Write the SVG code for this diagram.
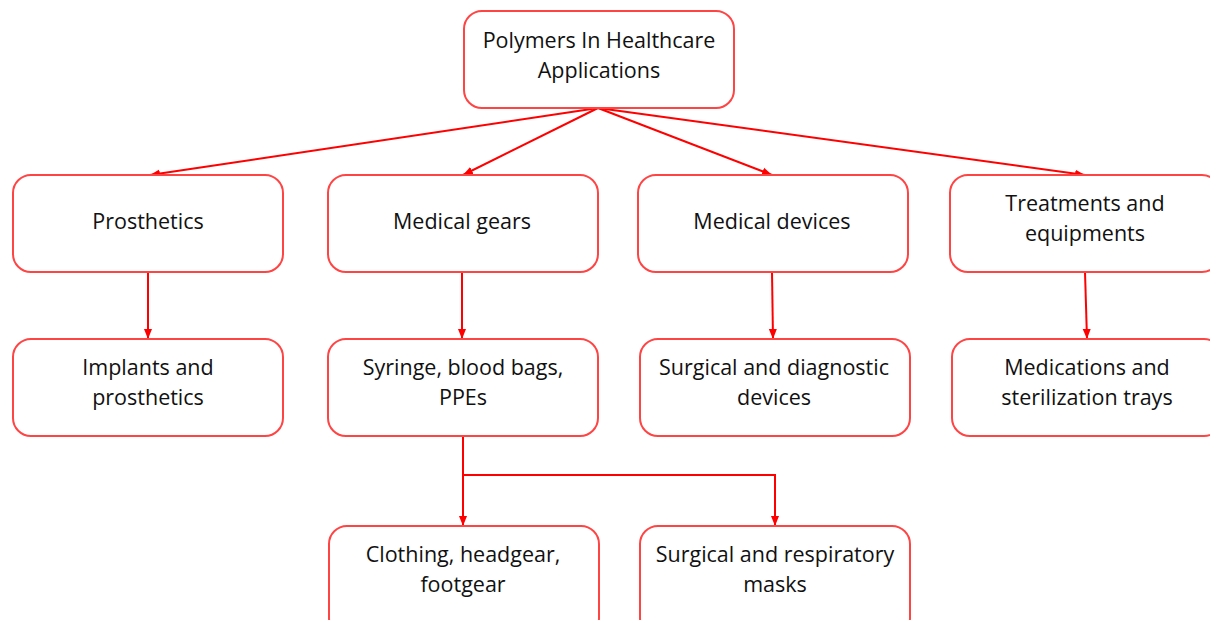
<svg xmlns="http://www.w3.org/2000/svg" width="1210" height="620" viewBox="0 0 1210 620">
<style>
.box{fill:#fff;stroke:#f44;stroke-width:2}
.t{font-family:"Open Sans","Liberation Sans",sans-serif;font-size:21.5px;fill:#111;text-anchor:middle}
.c{fill:none;stroke:#f00;stroke-width:2}
</style>
<defs>
<marker id="a" viewBox="0 0 10 10" refX="10" refY="5" markerWidth="10" markerHeight="10" orient="auto" markerUnits="userSpaceOnUse">
<path d="M0,1 L10,5 L0,9 z" fill="#f00"/>
</marker>
</defs>
<g id="connectors">
<line class="c" x1="598" y1="108" x2="150" y2="175" marker-end="url(#a)"/>
<line class="c" x1="598" y1="108" x2="463" y2="175" marker-end="url(#a)"/>
<line class="c" x1="598" y1="108" x2="772" y2="175" marker-end="url(#a)"/>
<line class="c" x1="598" y1="108" x2="1085" y2="175" marker-end="url(#a)"/>
<line class="c" x1="148" y1="272" x2="148" y2="339" marker-end="url(#a)"/>
<line class="c" x1="462" y1="272" x2="462" y2="339" marker-end="url(#a)"/>
<line class="c" x1="772" y1="272" x2="773" y2="339" marker-end="url(#a)"/>
<line class="c" x1="1085" y1="272" x2="1087" y2="339" marker-end="url(#a)"/>
<polyline class="c" points="463,436 463,475 463,526" marker-end="url(#a)"/>
<polyline class="c" points="463,475 775,475 775,526" marker-end="url(#a)"/>
</g>
<g id="root"><rect class="box" x="464" y="11" width="270" height="97" rx="18"/><text class="t" x="599" y="48">Polymers In Healthcare</text><text class="t" x="599" y="78">Applications</text></g>
<g id="prosthetics"><rect class="box" x="13" y="175" width="270" height="97" rx="18"/><text class="t" x="148" y="229">Prosthetics</text></g>
<g id="medical-gears"><rect class="box" x="328" y="175" width="270" height="97" rx="18"/><text class="t" x="462" y="229">Medical gears</text></g>
<g id="medical-devices"><rect class="box" x="638" y="175" width="270" height="97" rx="18"/><text class="t" x="772" y="229">Medical devices</text></g>
<g id="treatments"><rect class="box" x="950" y="175" width="270" height="97" rx="18"/><text class="t" x="1085" y="211">Treatments and</text><text class="t" x="1085" y="241">equipments</text></g>
<g id="implants"><rect class="box" x="13" y="339" width="270" height="97" rx="18"/><text class="t" x="148" y="375">Implants and</text><text class="t" x="148" y="405">prosthetics</text></g>
<g id="syringe"><rect class="box" x="328" y="339" width="270" height="97" rx="18"/><text class="t" x="463" y="375">Syringe, blood bags,</text><text class="t" x="463" y="405">PPEs</text></g>
<g id="surgical-diagnostic"><rect class="box" x="640" y="339" width="270" height="97" rx="18"/><text class="t" x="774" y="375">Surgical and diagnostic</text><text class="t" x="774" y="405">devices</text></g>
<g id="medications"><rect class="box" x="952" y="339" width="270" height="97" rx="18"/><text class="t" x="1087" y="375">Medications and</text><text class="t" x="1087" y="405">sterilization trays</text></g>
<g id="clothing"><rect class="box" x="329" y="526" width="270" height="110" rx="18"/><text class="t" x="463" y="562">Clothing, headgear,</text><text class="t" x="463" y="592">footgear</text></g>
<g id="masks"><rect class="box" x="640" y="526" width="270" height="110" rx="18"/><text class="t" x="775" y="562">Surgical and respiratory</text><text class="t" x="775" y="592">masks</text></g>
</svg>
